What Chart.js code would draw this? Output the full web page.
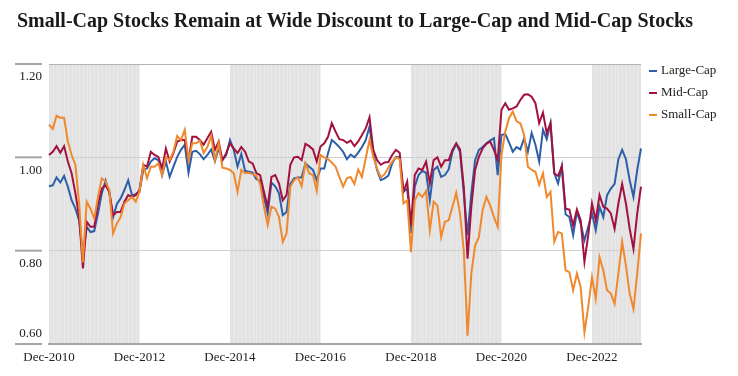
<!DOCTYPE html>
<html>
<head>
<meta charset="utf-8">
<script src="https://cdn.jsdelivr.net/npm/chart.js@4.4.1/dist/chart.umd.min.js"></script>
<style>
  html, body { margin: 0; padding: 0; background: #fff; }
  #wrap { position: relative; width: 738px; height: 376px; }
  #title {
    position: absolute; left: 17px; top: 9px;
    font: bold 20px 'Liberation Serif', 'Times New Roman', serif;
    color: #1a1a1a; white-space: nowrap;
  }
  canvas { position: absolute; left: 0; top: 0; }
</style>
</head>
<body>
<div id="wrap">
  <canvas id="relValue" width="738" height="376"></canvas>
  <div id="title">Small-Cap Stocks Remain at Wide Discount to Large-Cap and Mid-Cap Stocks</div>
</div>
<script>
// monthly relative valuation, Dec-2010 .. Jan-2024
const largeCap = [
  0.938, 0.940, 0.957, 0.946, 0.960, 0.937, 0.908, 0.890, 0.865, 0.790, 0.851, 0.840, 0.842, 0.880, 0.923, 0.950, 0.923, 0.872, 0.900, 0.912,
  0.930, 0.951, 0.919, 0.921, 0.926, 0.973, 0.976, 0.991, 0.998, 0.994, 0.962, 0.991, 0.958, 0.980, 1.001, 1.016, 1.027, 0.967, 1.012,
  1.014, 1.007, 0.996, 1.005, 1.017, 0.992, 1.019, 0.994, 1.005, 1.037, 1.016, 0.980, 1.007, 0.971, 0.969, 0.967, 0.953, 0.950, 0.915, 0.880,
  0.946, 0.938, 0.923, 0.876, 0.883, 0.943, 0.955, 0.957, 0.957, 0.987, 0.980, 0.973, 0.951, 0.976, 0.976, 1.009, 1.037, 1.030, 1.022, 1.012,
  0.996, 1.006, 1.000, 1.010, 1.022, 1.037, 1.066, 1.009, 0.973, 0.951, 0.955, 0.961, 0.987, 1.001, 1.000, 0.926, 0.933, 0.837, 0.937, 0.962,
  0.971, 0.967, 0.908, 0.973, 0.980, 0.958, 0.962, 0.974, 1.012, 1.029, 1.012, 0.923, 0.833, 0.923, 0.994, 1.016, 1.022, 1.030, 1.036,
  1.041, 0.962, 1.048, 1.050, 1.032, 1.012, 1.022, 1.017, 1.041, 1.012, 1.052, 1.027, 0.991, 1.059, 1.039, 1.073, 0.966, 0.944, 0.981, 0.878,
  0.872, 0.833, 0.883, 0.858, 0.822, 0.851, 0.880, 0.844, 0.894, 0.872, 0.919, 0.933, 0.943, 0.996, 1.016, 0.996, 0.951, 0.915, 0.973, 1.019
];
const midCap = [
  1.005, 1.012, 1.024, 1.010, 1.024, 0.991, 0.966, 0.923, 0.872, 0.762, 0.862, 0.851, 0.851, 0.901, 0.933, 0.940, 0.926, 0.876, 0.883, 0.883,
  0.905, 0.919, 0.915, 0.919, 0.930, 0.984, 0.980, 1.012, 1.005, 1.001, 0.976, 1.019, 0.991, 1.009, 1.034, 1.037, 1.037, 0.994, 1.044,
  1.044, 1.037, 1.027, 1.041, 1.055, 1.016, 1.034, 0.994, 1.009, 1.030, 1.019, 1.009, 1.022, 1.012, 0.991, 0.987, 0.966, 0.962, 0.926, 0.894,
  0.958, 0.962, 0.944, 0.908, 0.919, 0.984, 1.000, 1.001, 0.994, 1.029, 1.024, 1.017, 0.991, 1.023, 1.030, 1.044, 1.073, 1.055, 1.039, 1.037,
  1.031, 1.036, 1.024, 1.034, 1.048, 1.062, 1.086, 1.016, 0.994, 0.984, 0.989, 0.990, 1.005, 1.016, 1.010, 0.926, 0.948, 0.854, 0.962, 0.976,
  0.973, 0.991, 0.944, 0.994, 1.000, 0.980, 0.994, 0.994, 1.016, 1.030, 1.017, 0.937, 0.783, 0.894, 0.973, 1.001, 1.019, 1.029, 1.034,
  1.016, 0.994, 1.102, 1.116, 1.102, 1.105, 1.109, 1.123, 1.134, 1.135, 1.130, 1.116, 1.073, 1.096, 1.052, 1.073, 0.966, 0.960, 0.981, 0.890,
  0.888, 0.854, 0.888, 0.865, 0.776, 0.833, 0.901, 0.865, 0.919, 0.894, 0.890, 0.880, 0.847, 0.901, 0.943, 0.901, 0.847, 0.804, 0.880, 0.937
];
const smallCap = [
  1.070, 1.061, 1.089, 1.085, 1.085, 1.034, 1.005, 0.984, 0.901, 0.775, 0.905, 0.890, 0.869, 0.915, 0.955, 0.948, 0.930, 0.837, 0.858, 0.872,
  0.901, 0.908, 0.915, 0.905, 0.926, 0.984, 0.955, 0.980, 0.980, 0.987, 0.962, 1.001, 0.994, 1.012, 1.046, 1.037, 1.059, 0.994, 1.030,
  1.030, 1.036, 1.009, 1.022, 1.046, 0.994, 1.030, 0.978, 0.976, 0.973, 0.966, 0.926, 0.973, 0.966, 0.967, 0.964, 0.960, 0.943, 0.894, 0.855,
  0.894, 0.890, 0.872, 0.819, 0.837, 0.937, 0.951, 0.957, 0.938, 0.987, 0.966, 0.962, 0.928, 1.005, 1.000, 0.996, 0.989, 0.980, 0.958, 0.937,
  0.955, 0.958, 0.943, 0.974, 0.958, 0.998, 1.037, 1.001, 0.976, 0.957, 0.964, 0.978, 0.991, 1.000, 0.996, 0.901, 0.908, 0.797, 0.908, 0.923,
  0.915, 0.928, 0.844, 0.905, 0.897, 0.829, 0.862, 0.865, 0.894, 0.924, 0.880, 0.801, 0.618, 0.751, 0.811, 0.829, 0.887, 0.915, 0.897,
  0.872, 0.851, 1.005, 1.055, 1.084, 1.098, 1.077, 1.073, 1.048, 0.980, 0.973, 0.969, 0.941, 0.966, 0.915, 0.926, 0.819, 0.840, 0.837, 0.758,
  0.754, 0.715, 0.751, 0.722, 0.625, 0.679, 0.743, 0.697, 0.786, 0.758, 0.715, 0.708, 0.686, 0.751, 0.819, 0.768, 0.708, 0.675, 0.751, 0.837
];

const tickLabels = ['Dec-2010', 'Dec-2012', 'Dec-2014', 'Dec-2016', 'Dec-2018', 'Dec-2020', 'Dec-2022'];
const shadedFrom = ['Dec-2010', 'Dec-2014', 'Dec-2018', 'Dec-2022'];
const shadedTo = ['Dec-2012', 'Dec-2016', 'Dec-2020', 'Jan-2024'];
const yTicks = [0.60, 0.80, 1.00, 1.20];

const monthNames = ['Jan', 'Feb', 'Mar', 'Apr', 'May', 'Jun', 'Jul', 'Aug', 'Sep', 'Oct', 'Nov', 'Dec'];
const months = largeCap.map(function(_, i) {
    const m = 11 + i;
    return monthNames[m % 12] + '-' + (2010 + Math.floor(m / 12));
});

const serif = "'Liberation Serif', 'Times New Roman', serif";

// grey bands behind the lines (every other two years)
const bandsPlugin = {
    id: 'bands',
    beforeDraw(chart) {
        const ctx = chart.ctx, x = chart.scales.x, area = chart.chartArea;
        ctx.save();
        for (let b = 0; b < shadedFrom.length; b++) {
            const i0 = months.indexOf(shadedFrom[b]);
            let i1 = months.indexOf(shadedTo[b]);
            if (i1 < 0) i1 = months.length - 1;
            const x0 = x.getPixelForValue(i0);
            const x1 = Math.min(x.getPixelForValue(i1), area.right);
            ctx.fillStyle = '#e3e3e3';
            ctx.fillRect(x0, area.top, x1 - x0, area.bottom - area.top);
            ctx.strokeStyle = 'rgba(255,255,255,0.22)';
            ctx.lineWidth = 1;
            for (let i = i0 + 1; i < i1; i++) {
                const px = Math.round(x.getPixelForValue(i)) + 0.5;
                ctx.beginPath();
                ctx.moveTo(px, area.top);
                ctx.lineTo(px, area.bottom);
                ctx.stroke();
            }
        }
        ctx.restore();
    }
};

// y labels sit under their tick line, legend on the right
const axisLegendPlugin = {
    id: 'axisLegend',
    afterDraw(chart) {
        const ctx = chart.ctx, y = chart.scales.y, area = chart.chartArea;
        ctx.save();
        ctx.font = '13px ' + serif;
        ctx.fillStyle = '#222';
        ctx.textAlign = 'right';
        ctx.textBaseline = 'middle';
        yTicks.forEach(function(v) {
            const py = y.getPixelForValue(v);
            ctx.strokeStyle = '#a6a6a6';
            ctx.lineWidth = 2;
            ctx.beginPath();
            ctx.moveTo(y.left, py);
            ctx.lineTo(y.right - 7, py);
            ctx.stroke();
            const off = v === y.min ? -10 : 13;
            ctx.fillText(v.toFixed(2), y.right - 7, py + off);
        });

        ctx.textAlign = 'left';
        chart.data.datasets.forEach(function(ds, i) {
            const ly = area.top + 7 + i * 22;
            const lx = area.right + 8;
            ctx.strokeStyle = ds.borderColor;
            ctx.lineWidth = 2;
            ctx.beginPath();
            ctx.moveTo(lx, ly);
            ctx.lineTo(lx + 8, ly);
            ctx.stroke();
            ctx.fillText(ds.label, lx + 12, ly);
        });
        ctx.restore();
    }
};

const ctx = document.getElementById('relValue').getContext('2d');
const chart = new Chart(ctx, {
    type: 'line',
    data: {
        labels: months,
        datasets: [
            { label: 'Large-Cap', data: largeCap, borderColor: '#2d5fa8', order: 3 },
            { label: 'Mid-Cap', data: midCap, borderColor: '#a3123f', order: 2 },
            { label: 'Small-Cap', data: smallCap, borderColor: '#f0892e', order: 1 }
        ]
    },
    options: {
        responsive: false,
        animation: false,
        layout: { padding: { left: 15, right: 97, top: 64, bottom: 10 } },
        elements: {
            line: { borderWidth: 2, tension: 0, fill: false },
            point: { radius: 0, hoverRadius: 0 }
        },
        plugins: {
            legend: { display: false },
            tooltip: { enabled: false }
        },
        scales: {
            x: {
                type: 'category',
                afterFit: function(scale) { scale.height = 22; },
                grid: { display: false, drawTicks: false },
                border: { display: true, color: '#a6a6a6', width: 2 },
                ticks: {
                    autoSkip: false,
                    maxRotation: 0,
                    padding: 6,
                    color: '#222',
                    font: { family: serif, size: 13 },
                    callback: function(val, idx) {
                        const lab = months[idx];
                        return tickLabels.includes(lab) ? lab : '';
                    }
                }
            },
            y: {
                min: 0.6,
                max: 1.2,
                afterFit: function(scale) { scale.width = 34; },
                border: { display: false },
                grid: {
                    drawTicks: false,
                    color: function(c) {
                        const v = c.tick ? c.tick.value : 0;
                        if (Math.abs(v - 1.2) < 1e-6) return '#b4b4b4';
                        if (Math.abs(v - 0.6) < 1e-6) return 'rgba(0,0,0,0)';
                        return '#d0d0d0';
                    }
                },
                ticks: { display: false, stepSize: 0.2 }
            }
        }
    },
    plugins: [bandsPlugin, axisLegendPlugin]
});
</script>
</body>
</html>
